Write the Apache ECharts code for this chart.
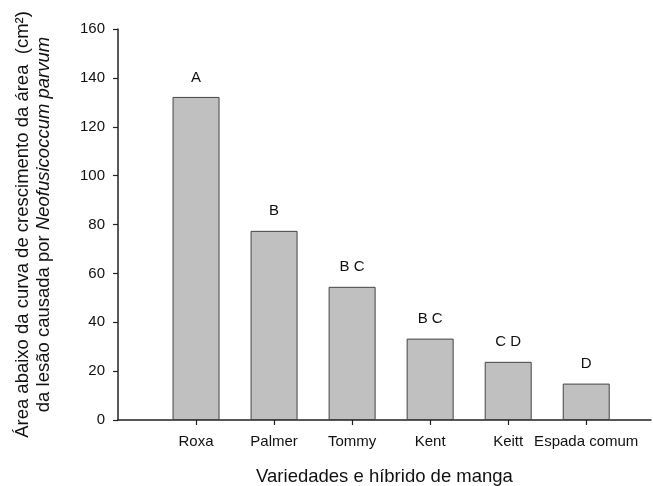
<!DOCTYPE html>
<html>
<head>
<meta charset="utf-8">
<script src="https://cdn.jsdelivr.net/npm/echarts@6/dist/echarts.min.js"></script>
<style>html,body{margin:0;padding:0;background:#fff}#c{width:653px;height:486px}</style>
</head>
<body>
<div id="c"></div>
<script>
const categories = ['Roxa', 'Palmer', 'Tommy', 'Kent', 'Keitt', 'Espada comum'];
const values = [132.2, 77.4, 54.5, 33.3, 23.8, 14.9];
const letters = ['A', 'B', 'B C', 'B C', 'C D', 'D'];
const positions = [1, 2, 3, 4, 5, 6];
const yMin = 0, yMax = 160, yStep = 20;

const font = 'Liberation Sans, Arial, sans-serif';
const chart = echarts.init(document.getElementById('c'));
chart.setOption({
  animation: false,
  backgroundColor: '#fff',
  grid: { left: 118, right: 2, top: 29, bottom: 66, containLabel: false, outerBoundsMode: 'none' },
  xAxis: {
    type: 'value', min: 0, max: 6.83,
    name: 'Variedades e híbrido de manga', nameLocation: 'middle', nameGap: 47,
    nameTextStyle: { fontFamily: font, fontSize: 18.5, color: '#111' },
    axisLine: { show: true, lineStyle: { color: '#222', width: 1.5 } },
    axisTick: { show: true, customValues: positions, length: 5, lineStyle: { color: '#222', width: 1.2 } },
    axisLabel: { customValues: positions, margin: 14, fontFamily: font, fontSize: 15, color: '#111',
      formatter: v => categories[Math.round(v) - 1] || '' },
    splitLine: { show: false }
  },
  yAxis: {
    type: 'value', min: yMin, max: yMax, interval: yStep,
    name: '{a|Área abaixo da curva de crescimento da área  (cm²)}\n{a|da lesão causada por }{i|Neofusicoccum parvum}',
    nameLocation: 'middle', nameRotate: 90, nameGap: 64,
    nameTextStyle: { fontFamily: font, fontSize: 18.5, color: '#111', lineHeight: 21,
      rich: { a: { fontFamily: font, fontSize: 18.5, color: '#111', lineHeight: 21 },
              i: { fontFamily: font, fontSize: 18.5, color: '#111', fontStyle: 'italic', lineHeight: 21 } } },
    axisLine: { show: true, lineStyle: { color: '#222', width: 1.5 } },
    axisTick: { show: true, length: 5, lineStyle: { color: '#222', width: 1.2 } },
    axisLabel: { margin: 13, fontFamily: font, fontSize: 15, color: '#111' },
    splitLine: { show: false }
  },
  series: [{
    type: 'bar',
    barWidth: 47,
    data: positions.map((p, i) => [p, values[i]]),
    itemStyle: { color: '#c0c0c0', borderColor: '#444', borderWidth: 1 },
    label: { show: true, position: 'top', distance: 12, fontFamily: font, fontSize: 15, color: '#111',
      formatter: p => letters[p.dataIndex] }
  }]
});
</script>
</body>
</html>
